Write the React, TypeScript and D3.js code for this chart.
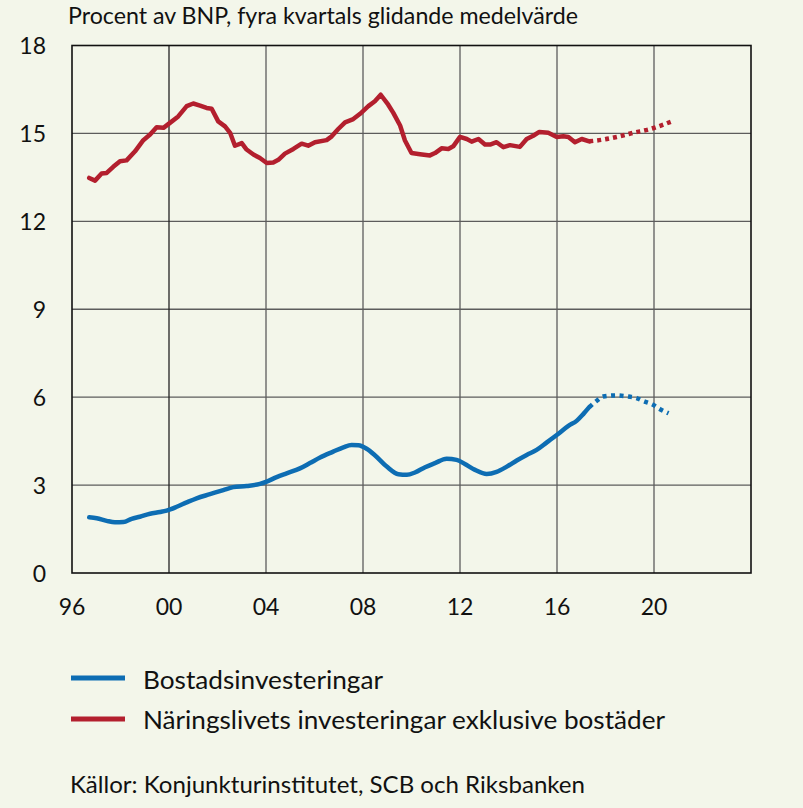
import React from "react";
import * as d3 from "d3";

const xTicks = [1996, 2000, 2004, 2008, 2012, 2016, 2020, 2024];
const xTickLabels = ["96", "00", "04", "08", "12", "16", "20", ""];
const yTicks = [0, 3, 6, 9, 12, 15, 18];

const title = "Procent av BNP, fyra kvartals glidande medelvärde";
const seriesNames = ["Bostadsinvesteringar", "Näringslivets investeringar exklusive bostäder"];
const source = "Källor: Konjunkturinstitutet, SCB och Riksbanken";

// Näringslivets investeringar exklusive bostäder (utfall)
const redYears = [1996.71, 1996.95, 1997.22, 1997.43, 1997.7, 1997.98, 1998.25, 1998.6, 1998.94, 1999.22, 1999.49, 1999.77, 2000.04, 2000.38, 2000.73, 2001.0, 2001.28, 2001.55, 2001.76, 2002.03, 2002.31, 2002.52, 2002.72, 2003.0, 2003.2, 2003.48, 2003.75, 2004.03, 2004.3, 2004.51, 2004.78, 2005.13, 2005.47, 2005.74, 2006.02, 2006.5, 2006.71, 2006.98, 2007.26, 2007.6, 2007.88, 2008.22, 2008.49, 2008.73, 2009.04, 2009.25, 2009.53, 2009.73, 2010.0, 2010.35, 2010.76, 2010.97, 2011.24, 2011.52, 2011.72, 2012.0, 2012.28, 2012.48, 2012.76, 2013.03, 2013.24, 2013.51, 2013.79, 2014.06, 2014.47, 2014.75, 2015.02, 2015.27, 2015.64, 2015.99, 2016.26, 2016.47, 2016.74, 2017.02, 2017.33];
const redValues = [13.48, 13.39, 13.63, 13.65, 13.86, 14.05, 14.08, 14.39, 14.77, 14.96, 15.21, 15.19, 15.36, 15.58, 15.93, 16.02, 15.95, 15.87, 15.84, 15.41, 15.24, 15.02, 14.58, 14.67, 14.45, 14.28, 14.16, 13.99, 14.01, 14.1, 14.31, 14.47, 14.65, 14.58, 14.7, 14.77, 14.9, 15.15, 15.38, 15.49, 15.67, 15.93, 16.1, 16.32, 15.98, 15.7, 15.27, 14.76, 14.33, 14.29, 14.25, 14.33, 14.49, 14.47, 14.56, 14.88, 14.81, 14.72, 14.81, 14.62, 14.62, 14.7, 14.53, 14.6, 14.54, 14.81, 14.92, 15.05, 15.02, 14.88, 14.9, 14.88, 14.7, 14.81, 14.73];
// prognos
const redFcYears = [2017.33, 2017.9, 2018.46, 2019.14, 2019.84, 2020.73];
const redFcValues = [14.73, 14.79, 14.88, 15.02, 15.15, 15.41];

// Bostadsinvesteringar (utfall)
const blueYears = [1996.71, 1997.02, 1997.43, 1997.77, 1998.12, 1998.46, 1998.8, 1999.22, 1999.63, 1999.9, 2000.32, 2000.73, 2001.14, 2001.69, 2002.24, 2002.65, 2003.2, 2003.75, 2004.03, 2004.44, 2004.85, 2005.4, 2005.81, 2006.23, 2006.77, 2007.19, 2007.53, 2007.81, 2008.15, 2008.49, 2008.98, 2009.46, 2009.81, 2010.14, 2010.56, 2010.97, 2011.45, 2011.86, 2012.2, 2012.62, 2013.1, 2013.51, 2013.93, 2014.34, 2014.75, 2015.16, 2015.57, 2015.99, 2016.47, 2016.82, 2017.09, 2017.33];
const blueValues = [1.9, 1.87, 1.78, 1.73, 1.74, 1.85, 1.92, 2.02, 2.08, 2.13, 2.26, 2.41, 2.55, 2.69, 2.83, 2.93, 2.97, 3.04, 3.12, 3.27, 3.4, 3.57, 3.75, 3.94, 4.14, 4.29, 4.37, 4.36, 4.24, 4.02, 3.63, 3.37, 3.35, 3.43, 3.61, 3.75, 3.9, 3.86, 3.72, 3.52, 3.38, 3.45, 3.63, 3.84, 4.03, 4.2, 4.45, 4.71, 5.02, 5.2, 5.43, 5.66];
const blueFcYears = [2017.33, 2017.64, 2017.9, 2018.46, 2018.94, 2019.28, 2019.55, 2019.96, 2020.25, 2020.6];
const blueFcValues = [5.66, 5.88, 6.02, 6.06, 6.02, 5.97, 5.87, 5.74, 5.59, 5.45];

const W = 803;
const H = 808;
const M = { left: 72, right: 751, top: 45.5, bottom: 573 };
const BG = "#F3F6EA";
const RED = "#B31F2E";
const BLUE = "#0D6DB3";
const FONT = "Lato, 'Open Sans', sans-serif";

export default function App() {
  const x = d3.scaleLinear().domain([1996, 2024]).range([M.left, M.right]);
  const y = d3.scaleLinear().domain([0, 18]).range([M.bottom, M.top]);

  const zip = (xs: number[], vs: number[]) => xs.map((d, i) => [d, vs[i]] as [number, number]);

  const lineLin = d3.line<[number, number]>().x((d) => x(d[0])).y((d) => y(d[1])).curve(d3.curveLinear);
  const lineSmooth = d3.line<[number, number]>().x((d) => x(d[0])).y((d) => y(d[1])).curve(d3.curveMonotoneX);

  return (
    <svg width={W} height={H} style={{ display: "block", position: "absolute", left: 0, top: 0, background: BG }}>
      <rect x={0} y={0} width={W} height={H} fill={BG} />
      <text x={68} y={24} fontFamily={FONT} fontSize={23} fill="#111" textLength={510} lengthAdjust="spacingAndGlyphs">{title}</text>

      {/* horizontal gridlines */}
      {yTicks.filter((t) => t > 0 && t < 18).map((t) => (
        <line key={"h" + t} x1={M.left} x2={M.right} y1={y(t)} y2={y(t)} stroke="#5c5c5c" strokeWidth={1.3} />
      ))}
      {/* vertical gridlines */}
      {xTicks.filter((t) => t > 1996 && t < 2024).map((t) => (
        <line key={"v" + t} x1={x(t)} x2={x(t)} y1={M.top} y2={M.bottom} stroke={t === 2000 ? "#222" : "#5c5c5c"} strokeWidth={1.3} />
      ))}
      {/* frame */}
      <rect x={M.left} y={M.top} width={M.right - M.left} height={M.bottom - M.top} fill="none" stroke="#111" strokeWidth={1.6} />

      {/* y tick labels */}
      {yTicks.map((t) => (
        <text key={"yl" + t} x={46} y={y(t) + 8.5} textAnchor="end" fontFamily={FONT} fontSize={23} fill="#111">{t}</text>
      ))}
      {/* x tick labels */}
      {xTicks.map((t, i) => (
        <text key={"xl" + t} x={x(t)} y={615} textAnchor="middle" fontFamily={FONT} fontSize={23} fill="#111">{xTickLabels[i]}</text>
      ))}

      {/* series */}
      <path d={lineLin(zip(redYears, redValues)) || ""} fill="none" stroke={RED} strokeWidth={4.5} strokeLinejoin="round" strokeLinecap="round" />
      <path d={lineSmooth(zip(redFcYears, redFcValues)) || ""} fill="none" stroke={RED} strokeWidth={4.5} strokeDasharray="4 4" />
      <path d={lineSmooth(zip(blueYears, blueValues)) || ""} fill="none" stroke={BLUE} strokeWidth={4.5} strokeLinejoin="round" strokeLinecap="round" />
      <path d={lineSmooth(zip(blueFcYears, blueFcValues)) || ""} fill="none" stroke={BLUE} strokeWidth={4.5} strokeDasharray="4 4.5" />

      {/* legend */}
      <line x1={71} x2={125} y1={678} y2={678} stroke={BLUE} strokeWidth={5} />
      <text x={143} y={689} fontFamily={FONT} fontSize={25} fill="#111" textLength={240} lengthAdjust="spacingAndGlyphs">{seriesNames[0]}</text>
      <line x1={71} x2={125} y1={719} y2={719} stroke={RED} strokeWidth={5} />
      <text x={143} y={729} fontFamily={FONT} fontSize={25} fill="#111" textLength={522} lengthAdjust="spacingAndGlyphs">{seriesNames[1]}</text>

      <text x={70} y={793} fontFamily={FONT} fontSize={24} fill="#111" textLength={515} lengthAdjust="spacingAndGlyphs">{source}</text>
    </svg>
  );
}
